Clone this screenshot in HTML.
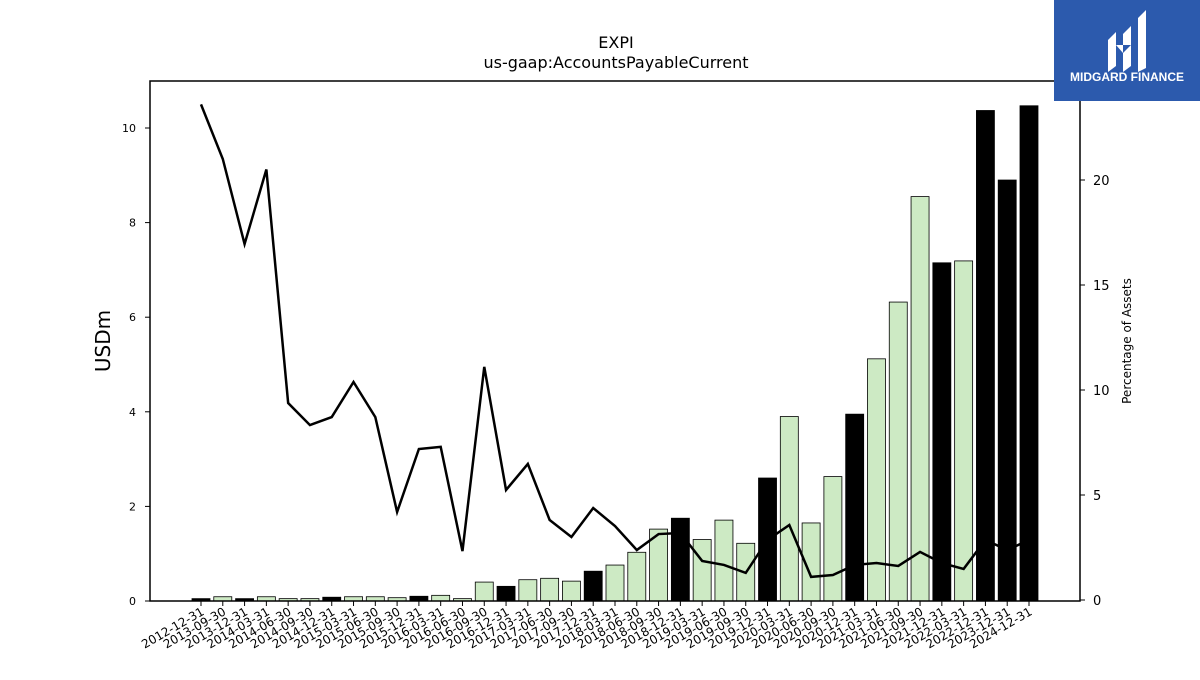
<!DOCTYPE html>
<html><head><meta charset="utf-8"><style>
body{margin:0;background:#fff;width:1200px;height:675px;overflow:hidden;font-family:"Liberation Sans","DejaVu Sans",sans-serif}
</style></head><body>
<svg id="chart" width="1200" height="675" xmlns="http://www.w3.org/2000/svg" font-family="DejaVu Sans, Liberation Sans, sans-serif">
<text x="616" y="48" font-size="16" text-anchor="middle">EXPI</text>
<text x="616" y="68" font-size="16" text-anchor="middle">us-gaap:AccountsPayableCurrent</text>
<g id="bars"></g><g id="xt"></g><g id="yl"></g><g id="yr"></g>
<path id="line" fill="none" stroke="#000" stroke-width="2.5"/>
<rect x="150" y="81" width="930" height="520" fill="none" stroke="#000" stroke-width="1.5"/>
<text transform="translate(110,341) rotate(-90)" font-size="20" text-anchor="middle">USDm</text>
<text transform="translate(1131,341) rotate(-90)" font-size="12" text-anchor="middle">Percentage of Assets</text>
<g>
<rect x="1054" y="0" width="146" height="101" fill="#2c5aad"/>
<path d="M1108 40 l8-8 v34 l-8 6z M1123 34 l8-8 v40 l-8 6z M1138 18 l8-8 v58 l-8 4z M1116 45 l7 8 l8-8" fill="#fff"/>
<text x="1127" y="81" font-size="12" font-weight="bold" fill="#fff" text-anchor="middle" font-family="Liberation Sans, sans-serif">MIDGARD FINANCE</text>
</g>
</svg>
<script>
const categories=["2012-12-31","2013-09-30","2013-12-31","2014-03-31","2014-06-30","2014-09-30","2014-12-31","2015-03-31","2015-06-30","2015-09-30","2015-12-31","2016-03-31","2016-06-30","2016-09-30","2016-12-31","2017-03-31","2017-06-30","2017-09-30","2017-12-31","2018-03-31","2018-06-30","2018-09-30","2018-12-31","2019-03-31","2019-06-30","2019-09-30","2019-12-31","2020-03-31","2020-06-30","2020-09-30","2020-12-31","2021-03-31","2021-06-30","2021-09-30","2021-12-31","2022-03-31","2022-12-31","2023-12-31","2024-12-31"];
const payables=[0.05,0.09,0.05,0.09,0.05,0.05,0.08,0.09,0.09,0.07,0.1,0.12,0.05,0.4,0.31,0.45,0.48,0.42,0.63,0.76,1.03,1.52,1.75,1.3,1.71,1.22,2.6,3.9,1.65,2.63,3.95,5.12,6.32,8.55,7.15,7.19,10.37,8.9,10.47];
const pctAssets=[23.6,21.0,16.95,20.5,9.38,8.33,8.71,10.38,8.71,4.19,7.19,7.29,2.33,11.1,5.24,6.48,3.81,3.0,4.38,3.52,2.38,3.14,3.19,1.86,1.67,1.29,2.86,3.57,1.1,1.19,1.67,1.76,1.62,2.29,1.76,1.48,2.86,2.38,2.86];
const leftTicks=[0,2,4,6,8,10];
const rightTicks=[0,5,10,15,20];
const NS="http://www.w3.org/2000/svg";
const xs=i=>201+i*(1029-201)/(categories.length-1);
const yL=v=>601-v*47.3;
const yR=v=>600-v*21;
function mk(t,a,p){const e=document.createElementNS(NS,t);for(const k in a)e.setAttribute(k,a[k]);p.appendChild(e);return e;}
const bars=document.getElementById('bars'),xt=document.getElementById('xt'),yl=document.getElementById('yl'),yr=document.getElementById('yr');
payables.forEach((v,i)=>{
  const annual=categories[i].endsWith('12-31');
  const r=mk('rect',{x:xs(i)-9,y:yL(v),width:18,height:601-yL(v),fill:annual?'#000':'#cdeac4',stroke:'#000','stroke-width':0.8},bars);
  
  
});
categories.forEach((c,i)=>{
  const l=mk('line',{x1:xs(i),x2:xs(i),y1:601,y2:606,stroke:'#000'},xt);
  
  
  const t=mk('text',{transform:`translate(${xs(i)+4},${614}) rotate(-30)`,'text-anchor':'end','font-size':12},xt);
  
  
  t.textContent=c;
});
leftTicks.forEach(v=>{
  mk('line',{x1:145,x2:150,y1:yL(v),y2:yL(v),stroke:'#000'},yl);
  const t=mk('text',{x:136,y:yL(v)+4,'text-anchor':'end','font-size':11},yl);
  
  
  t.textContent=v;
});
rightTicks.forEach(v=>{
  mk('line',{x1:1080,x2:1085,y1:yR(v),y2:yR(v),stroke:'#000'},yr);
  const t=mk('text',{x:1093,y:yR(v)+5,'font-size':13},yr);
  
  
  t.textContent=v;
});
document.getElementById('line').setAttribute('d',pctAssets.map((v,i)=>(i?'L':'M')+xs(i)+' '+yR(v)).join(' '));
</script>
</body></html>
